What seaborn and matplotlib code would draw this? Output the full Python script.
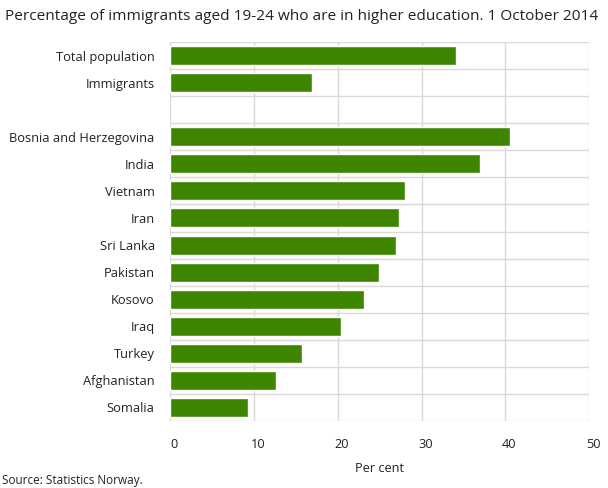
import matplotlib
matplotlib.use("Agg")
import matplotlib.pyplot as plt
import matplotlib.transforms as mtrans
import numpy as np
import pandas as pd
import seaborn as sns

# values (per cent)
groups = ["Total population", "Immigrants"]
group_vals = [34.1, 16.9]
countries = ["Bosnia and Herzegovina", "India", "Vietnam", "Iran", "Sri Lanka",
             "Pakistan", "Kosovo", "Iraq", "Turkey", "Afghanistan", "Somalia"]
country_vals = [40.5, 37.0, 28.0, 27.3, 26.9, 24.9, 23.1, 20.4, 15.7, 12.6, 9.3]
xticks = [0, 10, 20, 30, 40, 50]

df = pd.DataFrame({"label": groups + countries, "pct": group_vals + country_vals})
order = groups + [" "] + countries

sns.set_theme(style="white")
plt.rcParams["font.family"] = ["Open Sans", "DejaVu Sans"]

fig = plt.figure(figsize=(6.08, 4.88), dpi=100)
ax = fig.add_axes([0.2796, 0.1373, 0.6896, 0.7766])

sns.barplot(data=df, x="pct", y="label", order=order, color="#3f8600",
            saturation=1, width=0.7, ax=ax)

ax.set_xlim(0, 50)
ax.set_ylim(len(order) - 0.5, -0.5)
ax.set_xticks(xticks)
ax.set_xticklabels([str(t) for t in xticks], fontsize=9.2, color="#222222")
ax.set_yticks(range(len(order)))
ax.set_yticklabels(order, fontsize=9.3, color="#222222")
ax.set_yticks(np.arange(-0.5, len(order), 1), minor=True)
ax.tick_params(axis="both", which="both", length=0)
ax.tick_params(axis="x", pad=12)
ax.tick_params(axis="y", pad=11)

# tick labels sit a little right of their gridlines in the reference
shift = mtrans.ScaledTranslation(4 / 100, 0, fig.dpi_scale_trans)
for lab in ax.get_xticklabels():
    lab.set_transform(lab.get_transform() + shift)

ax.grid(axis="x", which="major", color="#d9d9d9", lw=1)
ax.grid(axis="y", which="minor", color="#d9d9d9", lw=1)
ax.set_axisbelow(True)
for s in ax.spines.values():
    s.set_visible(False)

ax.set_xlabel("Per cent", fontsize=9.2, color="#222222", labelpad=8)
ax.set_ylabel("")

fig.text(0.008, 0.967, "Percentage of immigrants aged 19-24 who are in higher education. 1 October 2014",
         fontsize=11.1, color="#222222", va="center", ha="left")
fig.text(0.003, 0.016, "Source: Statistics Norway.", fontsize=8.5, color="#222222",
         va="center", ha="left")

fig.savefig("out.png", dpi=100)
